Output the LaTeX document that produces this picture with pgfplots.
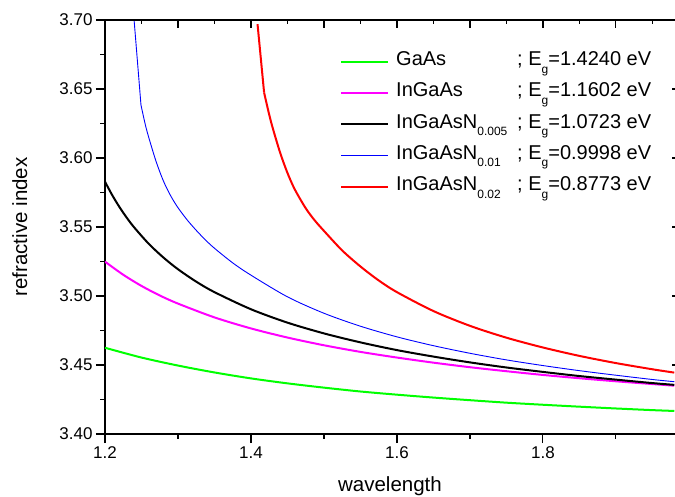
\documentclass[border=0pt]{standalone}
\usepackage{fontspec}
\setmainfont{Liberation Sans}
\usepackage{pgfplots}
\pgfplotsset{compat=1.18}
\newcommand{\sub}[1]{\raisebox{-7.5pt}{\fontsize{12}{12}\selectfont #1}}
\newcommand{\ent}[2]{\makebox[121pt][l]{#1}; E\sub{g}=#2 eV}
\definecolor{cgreen}{RGB}{0,255,0}
\definecolor{cmag}{RGB}{255,0,255}
\definecolor{cblue}{RGB}{0,0,255}
\definecolor{cred}{RGB}{255,0,0}
\begin{document}
\begin{tikzpicture}
\begin{axis}[
 scale only axis, width=570pt, height=414pt,
 xmin=1.2, xmax=1.981, ymin=3.40, ymax=3.70,
 axis x line*=bottom, axis y line*=left,
 axis line style={-, line width=1.3pt},
 every tick/.style={black, line width=1.2pt},
 tick align=outside,
 major tick length=9pt, minor tick length=4.5pt,
 xtick={1.2,1.4,1.6,1.8}, minor xtick={1.3,1.5,1.7,1.9},
 ytick={3.40,3.45,3.50,3.55,3.60,3.65,3.70},
 minor ytick={3.425,3.475,3.525,3.575,3.625,3.675},
 yticklabel style={/pgf/number format/.cd, fixed, fixed zerofill, precision=2},
 xticklabel style={/pgf/number format/.cd, fixed, precision=1},
 /pgf/number format/assume math mode=true,
 ticklabel style={font=\fontsize{17}{17}\selectfont},
 xlabel={wavelength}, ylabel={refractive index},
 label style={font=\fontsize{20.5}{20.5}\selectfont},
 xlabel style={at={(axis description cs:0.5,-0.1394)}, anchor=base},
 ylabel style={at={(axis description cs:-0.1368,0.5)}, anchor=base},
 legend style={at={(axis description cs:0.4123,0.9372)}, anchor=north west,
   draw=none, fill=none, inner sep=0pt, row sep=0pt, column sep=7pt,
   font=\fontsize{20}{20}\selectfont,
   nodes={inner sep=0pt, text height=19.3pt, text depth=12pt}},
 legend cell align=left,
 legend image code/.code={\draw[#1] (0pt,0pt) -- (47pt,0pt);},
]
\coordinate (O) at (rel axis cs:0,0);
\addplot[cgreen, line width=2pt, smooth] coordinates {
(1.20,3.4625) (1.25,3.4554) (1.30,3.4496) (1.35,3.4446) (1.40,3.4403)
(1.45,3.4367) (1.50,3.4336) (1.55,3.4308) (1.60,3.4285) (1.65,3.4264) (1.70,3.4245)
(1.75,3.4227) (1.80,3.4212) (1.85,3.4198) (1.90,3.4185) (1.95,3.4173) (1.98,3.4167)};
\addlegendentry{\ent{GaAs}{1.4240}}
\addplot[cmag, line width=2pt, smooth] coordinates {
(1.20,3.5249) (1.225,3.5154) (1.25,3.5073) (1.275,3.5004) (1.30,3.4945) (1.35,3.4845)
(1.40,3.4765) (1.45,3.4699) (1.50,3.4643) (1.55,3.4595) (1.60,3.4554) (1.65,3.4517)
(1.70,3.4484) (1.75,3.4455) (1.80,3.4428) (1.85,3.4404) (1.90,3.4382) (1.95,3.4362) (1.98,3.4350)};
\addlegendentry{\ent{InGaAs}{1.1602}}
\addplot[black, line width=2pt, smooth] coordinates {
(1.20,3.5828) (1.21,3.5730) (1.22,3.5643) (1.23,3.5566) (1.24,3.5497) (1.26,3.5378)
(1.28,3.5279) (1.30,3.5194) (1.325,3.5104) (1.35,3.5028) (1.40,3.4904) (1.45,3.4807)
(1.50,3.4729) (1.55,3.4664) (1.60,3.4608) (1.65,3.4561) (1.70,3.4519) (1.75,3.4482)
(1.80,3.4450) (1.85,3.4420) (1.90,3.4394) (1.95,3.4369) (1.98,3.4356)};
\addlegendentry{\ent{InGaAsN\sub{0.005}}{1.0723}}
\addplot[cblue, line width=0.9pt, forget plot] coordinates {(1.2394,3.703) (1.2493,3.6384)};
\addplot[cblue, line width=0.9pt, smooth] coordinates {
(1.2493,3.6384) (1.255,3.6247) (1.26,3.6148) (1.27,3.5975) (1.28,3.5834) (1.29,3.5726)
(1.30,3.5640) (1.3125,3.5552) (1.325,3.5476) (1.3375,3.5407) (1.35,3.5346) (1.375,3.5240)
(1.40,3.5151) (1.45,3.4994) (1.50,3.4875) (1.55,3.4781) (1.60,3.4704) (1.65,3.4640)
(1.70,3.4585) (1.75,3.4537) (1.80,3.4496) (1.85,3.4459) (1.90,3.4426) (1.95,3.4395) (1.98,3.4379)};
\addlegendentry{\ent{InGaAsN\sub{0.01}}{0.9998}}
\addplot[cred, line width=2pt, forget plot] coordinates {(1.409,3.697) (1.418,3.6474)};
\addplot[cred, line width=2pt, smooth] coordinates {
(1.418,3.6474) (1.425,3.6314) (1.43,3.6214) (1.44,3.6038) (1.45,3.5892) (1.46,3.5773)
(1.475,3.5636) (1.4875,3.5547) (1.50,3.5472) (1.525,3.5330) (1.55,3.5214) (1.575,3.5113)
(1.60,3.5028) (1.65,3.4891) (1.70,3.4784) (1.75,3.4698) (1.80,3.4627) (1.85,3.4566)
(1.90,3.4514) (1.95,3.4469) (1.98,3.4445)};
\addlegendentry{\ent{InGaAsN\sub{0.02}}{0.8773}}
\end{axis}
\begin{axis}[
 scale only axis, width=570pt, height=414pt,
 xmin=1.2, xmax=1.981, ymin=3.40, ymax=3.70,
 axis x line*=top, axis y line=none,
 axis line style={-, line width=1.3pt},
 every tick/.style={black, line width=1.2pt},
 tick align=inside,
 major tick length=8pt, minor tick length=4.5pt,
 xtick={1.3,1.4,1.5,1.6,1.7,1.8,1.9},
 minor xtick={1.25,1.35,1.45,1.55,1.65,1.75,1.85,1.95},
 xticklabels={},
]
\end{axis}
\begin{axis}[
 scale only axis, width=570pt, height=414pt,
 xmin=1.2, xmax=1.981, ymin=3.40, ymax=3.70,
 axis x line=none, axis y line*=right,
 y axis line style={draw=none},
 every tick/.style={black, line width=1.2pt},
 tick align=inside,
 major tick length=3.5pt,
 ytick={3.45,3.50,3.55,3.60,3.65},
 yticklabels={},
]
\end{axis}
\pgfresetboundingbox
\path (O) ++(-105pt,-62pt) rectangle ++(675pt,496pt);
\end{tikzpicture}
\end{document}
